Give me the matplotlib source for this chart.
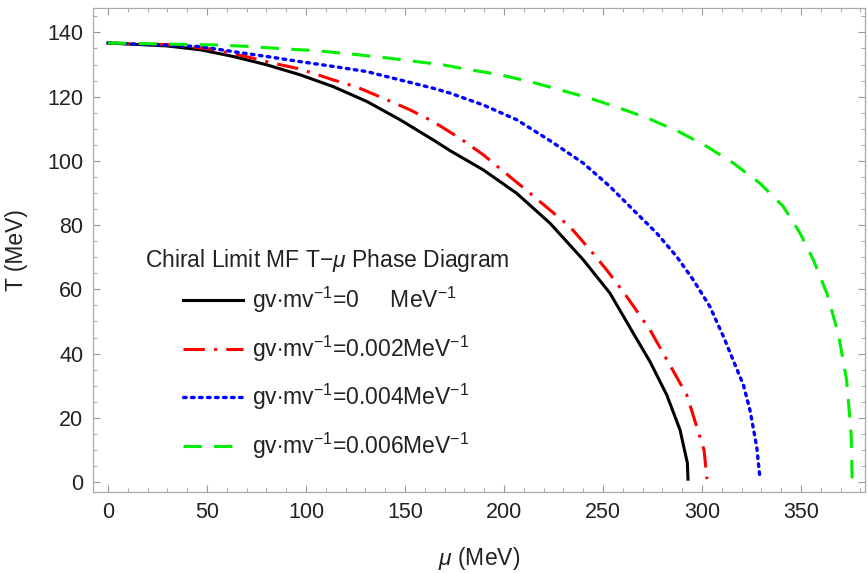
import matplotlib
matplotlib.use('Agg')
import matplotlib.pyplot as plt
from matplotlib.ticker import MultipleLocator

plt.rcParams['font.family'] = ['Liberation Sans', 'DejaVu Sans']
plt.rcParams['mathtext.fontset'] = 'custom'
plt.rcParams['mathtext.it'] = 'Liberation Sans:italic'
plt.rcParams['mathtext.rm'] = 'Liberation Sans'

# T-mu phase boundaries, chiral limit, mean field (mu, T in MeV)
mu_0 = [0, 29.6, 46.5, 63.3, 80.2, 97, 113.8, 130.7, 147.5, 164.3, 172.7, 189.5, 206.4,
        223.2, 240, 253.5, 265.3, 273.7, 282.2, 288.9, 292.6, 292.9]
T_0 = [136.7, 135.8, 134.6, 132.5, 129.9, 126.8, 123.1, 118.5, 112.8, 106.5, 103.2, 97.2, 89.9,
       80.6, 69.2, 58.8, 46.3, 37.5, 27.1, 16.2, 5.9, 0.9]

mu_2 = [0, 30, 50, 68.3, 83.5, 97, 113.8, 125.6, 139, 152.5, 164.3, 177.8, 189.5, 211.4,
        223.2, 233.3, 243.4, 251.9, 262, 273.7, 292.3, 301, 302.5]
T_2 = [136.7, 136.2, 135, 132.7, 130.4, 128.6, 125.2, 123, 119.5, 115.9, 112.2, 107, 101.9, 90.8,
       84.7, 79.5, 72.3, 66, 57.7, 47.4, 27.1, 10, 0.9]

mu_4 = [0, 46.5, 63.3, 80.2, 97, 113.8, 130.7, 147.5, 164.3, 172.7, 189.5, 206.4, 223.2,
        240, 253.5, 265.3, 277.1, 287.2, 295.6, 304, 310.8, 320.9, 324.2, 327.6, 329.3]
T_4 = [136.7, 135.6, 134, 132.5, 130.9, 129.4, 127.8, 125.2, 122.6, 121.1, 117.4, 112.8, 106.3,
       99.3, 92, 84.7, 77.5, 70.2, 62.9, 54.6, 45.3, 30.2, 22.4, 11, 0.9]

mu_6 = [0, 54.9, 71.7, 88.5, 105.4, 122.2, 139, 155.9, 169.3, 177.8, 198, 213, 228.3, 243.4,
        258.6, 273.7, 288.9, 302.4, 315.8, 329.3, 341, 349.5, 356.2, 363, 368.8, 373, 375.3, 375.8]
T_6 = [136.7, 136.1, 135.6, 134.9, 134.3, 133.3, 132.2, 130.9, 129.9, 128.9, 126.8, 124.7, 122.1, 119.5,
       116.4, 113.0, 108.9, 104.5, 99.3, 93, 85.8, 77.5, 69.2, 58.8, 46.3, 31.8, 15, 0.9]

labels = [r'gv$\cdot$mv$^{-1}$=0     MeV$^{-1}$',
          r'gv$\cdot$mv$^{-1}$=0.002MeV$^{-1}$',
          r'gv$\cdot$mv$^{-1}$=0.004MeV$^{-1}$',
          r'gv$\cdot$mv$^{-1}$=0.006MeV$^{-1}$']

W, H = 868, 573
fig = plt.figure(figsize=(W / 100, H / 100), dpi=100)
ax = fig.add_axes([93 / W, 1 - 492 / H, (865 - 93) / W, (492 - 8) / H])

ax.plot(mu_0, T_0, color='black', lw=2.2, solid_joinstyle='round', label=labels[0])
ax.plot(mu_2, T_2, color='#ff0000', lw=2.2, dashes=(7, 3, 1, 3), label=labels[1])
ax.plot(mu_4, T_4, color='#0000ff', lw=2.4, dashes=(0.8, 1.6), dash_capstyle='round', label=labels[2])
ax.plot(mu_6, T_6, color='#00ee00', lw=2.2, dashes=(6, 4), label=labels[3])

ax.set_xlim(-7.6, 382.3)
ax.set_ylim(-3.1, 147.6)
ax.xaxis.set_major_locator(MultipleLocator(50))
ax.xaxis.set_minor_locator(MultipleLocator(10))
ax.yaxis.set_major_locator(MultipleLocator(20))
ax.yaxis.set_minor_locator(MultipleLocator(5))
ax.tick_params(which='both', direction='in', top=True, right=True, color='#999999')
ax.tick_params(which='major', length=5, labelsize=15.5, pad=7, labelcolor='#222222')
ax.tick_params(which='minor', length=3)
for s in ax.spines.values():
    s.set_color('#aaaaaa')
    s.set_linewidth(0.9)

ax.set_xlabel(r'$\mu$ (MeV)', fontsize=16.5, labelpad=16, color='#222222')
ax.set_ylabel('T (MeV)', fontsize=16.5, labelpad=14, color='#222222')

# legend block: title on its own line, entries indented below it
fig.text(145 / W, 1 - 261 / H, r'Chiral Limit MF T$-\mu$ Phase Diagram',
         fontsize=16.5, color='#222222', va='center', ha='left')
ax.legend(loc='upper left', bbox_to_anchor=(183 / W, 1 - 285 / H),
          bbox_transform=fig.transFigure, frameon=False, fontsize=16.5,
          borderpad=0, borderaxespad=0, handlelength=2.6, handletextpad=0.4,
          labelspacing=0.8, labelcolor='#222222')

fig.savefig('out.png', dpi=100)
